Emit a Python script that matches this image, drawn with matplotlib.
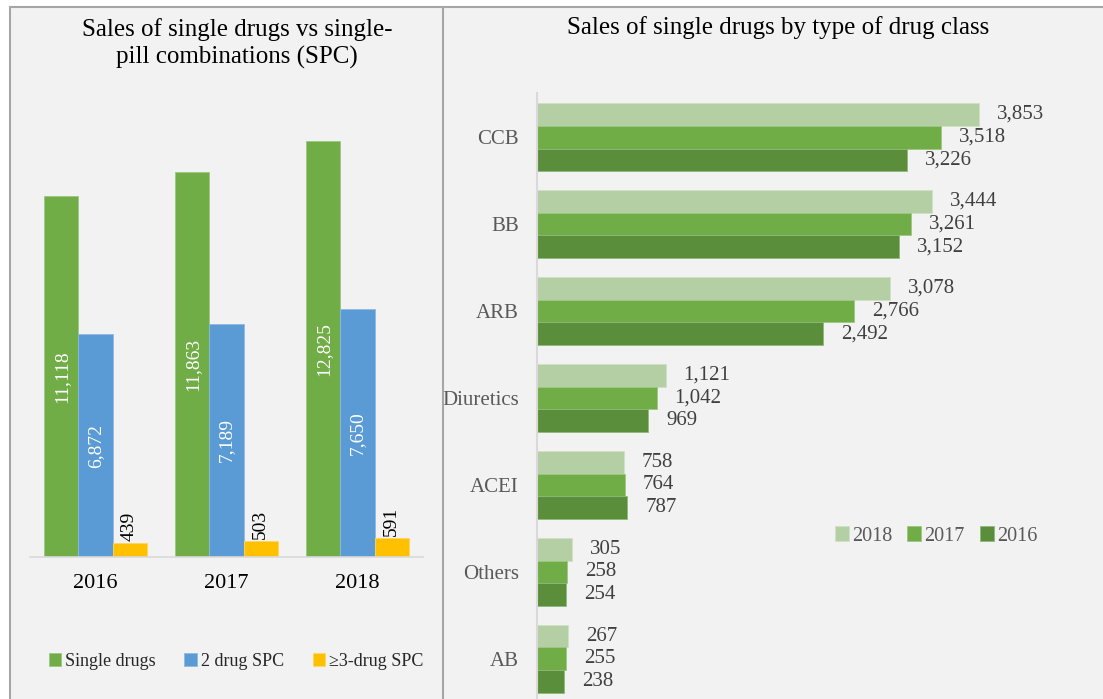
import numpy as np
import matplotlib.pyplot as plt
from matplotlib.patches import Rectangle

plt.rcParams['font.family'] = ['Liberation Serif', 'DejaVu Serif']

# Left panel data
years = ['2016', '2017', '2018']
single_drugs = [11118, 11863, 12825]
spc_2drug = [6872, 7189, 7650]
spc_3drug = [439, 503, 591]

# Right panel data
drug_classes = ['CCB', 'BB', 'ARB', 'Diuretics', 'ACEI', 'Others', 'AB']
sales_2018 = [3853, 3444, 3078, 1121, 758, 305, 267]
sales_2017 = [3518, 3261, 2766, 1042, 764, 258, 255]
sales_2016 = [3226, 3152, 2492, 969, 787, 254, 238]

W, H = 1103, 699
fig = plt.figure(figsize=(W / 100, H / 100), dpi=100)
fig.patch.set_facecolor('white')

# panel background and borders
bg = '#f2f2f2'
fig.patches.append(Rectangle((10 / W, -0.05), 1.1, 1.05 - 7 / H, transform=fig.transFigure,
                             facecolor=bg, edgecolor='#a6a6a6', linewidth=1.5, zorder=-10))
fig.lines.append(plt.Line2D([443 / W, 443 / W], [0, 1 - 7 / H], transform=fig.transFigure,
                            color='#a6a6a6', linewidth=1.5))

# ---- left chart ----
ax1 = fig.add_axes([30 / W, (H - 557) / H, 393 / W, 454 / H])
ax1.set_facecolor('none')
x = np.arange(len(years))
w = 0.26
b1 = ax1.bar(x - w, single_drugs, w, color='#70ad47', edgecolor='#9cc784', linewidth=0.6, label='Single drugs')
b2 = ax1.bar(x, spc_2drug, w, color='#5b9bd5', edgecolor='#8db9e3', linewidth=0.6, label='2 drug SPC')
b3 = ax1.bar(x + w, spc_3drug, w, color='#ffc000', edgecolor='#ffd55c', linewidth=0.6, label='\u22653-drug SPC')

for xi, v in zip(x - w, single_drugs):
    ax1.text(xi, v / 2, f'{v:,}', rotation=90, ha='center', va='center', color='white', fontsize=14)
for xi, v in zip(x, spc_2drug):
    ax1.text(xi, v / 2, f'{v:,}', rotation=90, ha='center', va='center', color='white', fontsize=14)
for xi, v in zip(x + w, spc_3drug):
    ax1.text(xi, v + 60, f'{v:,}', rotation=90, ha='center', va='bottom', color='black', fontsize=14)

ax1.set_xlim(-0.5, 2.5)
ax1.set_ylim(0, 14000)
ax1.set_xticks(x)
ax1.set_xticklabels(years, fontsize=16)
ax1.set_yticks([])
ax1.tick_params(axis='x', length=0, pad=12)
for s in ['top', 'right', 'left']:
    ax1.spines[s].set_visible(False)
ax1.spines['bottom'].set_color('#d9d9d9')
ax1.spines['bottom'].set_linewidth(1.2)

fig.text(237 / W, 1 - 30 / H, 'Sales of single drugs vs single-', ha='center', va='center', fontsize=18)
fig.text(237 / W, 1 - 57 / H, 'pill combinations (SPC)', ha='center', va='center', fontsize=18)

fig.legend(handles=[b1, b2, b3], loc='center', bbox_to_anchor=(236 / W, 1 - 661 / H), ncol=3,
           frameon=False, fontsize=13, handlelength=0.7, handleheight=0.7, handletextpad=0.2,
           columnspacing=1.6, labelcolor='#262626')

# ---- right chart ----
ax2 = fig.add_axes([537 / W, 0, 550 / W, (H - 93) / H])
ax2.set_facecolor('none')
y = np.arange(len(drug_classes))
h = 0.264
r1 = ax2.barh(y - h, sales_2018, h, color='#b5cfa5', edgecolor='#cfe0c4', linewidth=0.6, label='2018')
r2 = ax2.barh(y, sales_2017, h, color='#70ad47', edgecolor='#9cc784', linewidth=0.6, label='2017')
r3 = ax2.barh(y + h, sales_2016, h, color='#5a8e3a', edgecolor='#8fb87a', linewidth=0.6, label='2016')
for bars, vals in [(r1, sales_2018), (r2, sales_2017), (r3, sales_2016)]:
    for bar, v in zip(bars, vals):
        ax2.annotate(f'{v:,}', (bar.get_width(), bar.get_y() + bar.get_height() / 2),
                     xytext=(13, 0), textcoords='offset points', ha='left', va='center',
                     fontsize=15, color='#404040')

ax2.set_xlim(0, 4795)
ax2.set_ylim(6.46, -0.506)
ax2.set_yticks(y)
ax2.set_yticklabels(drug_classes, fontsize=15, color='#595959')
ax2.set_xticks([])
ax2.tick_params(axis='y', length=0, pad=13)
for s in ['top', 'right', 'bottom']:
    ax2.spines[s].set_visible(False)
ax2.spines['left'].set_color('#d9d9d9')
ax2.spines['left'].set_linewidth(1.5)

fig.text(778 / W, 1 - 28 / H, 'Sales of single drugs by type of drug class', ha='center', va='center', fontsize=18)

ax2.legend(handles=[r1, r2, r3], loc='center', bbox_to_anchor=(936 / W, 1 - 536 / H),
           bbox_transform=fig.transFigure, ncol=3, frameon=False, fontsize=14.5,
           handlelength=0.7, handleheight=0.7, handletextpad=0.15, columnspacing=0.75,
           labelcolor='#595959')

fig.savefig('out.png', dpi=100, facecolor=fig.get_facecolor())
